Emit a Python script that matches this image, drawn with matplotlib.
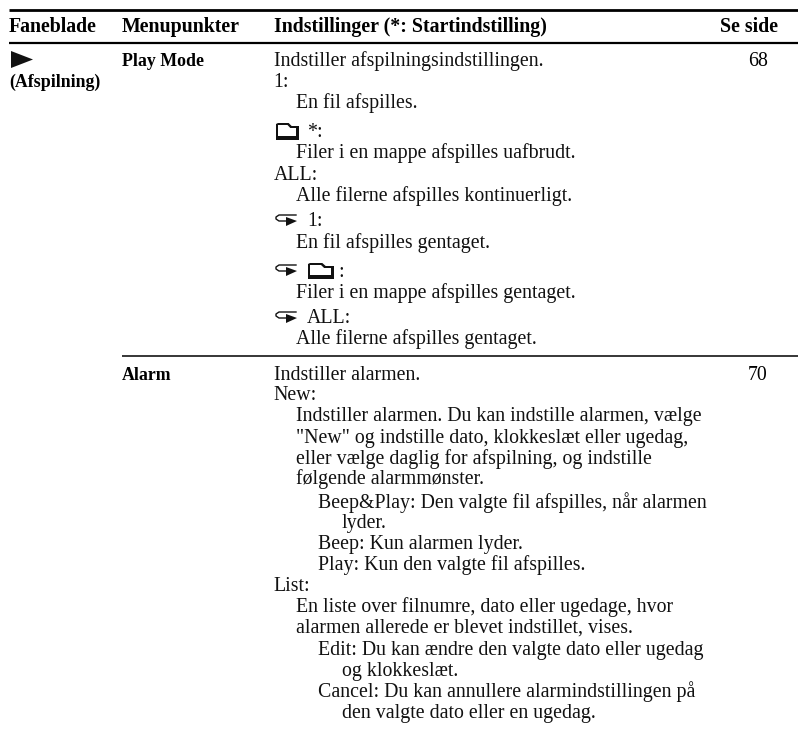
#!/usr/bin/env python3
# -*- coding: utf-8 -*-

import matplotlib
matplotlib.use("Agg")
import matplotlib.pyplot as plt
from matplotlib.patches import Polygon

plt.rcParams['font.family'] = ['Liberation Serif', 'DejaVu Serif']

# ---- table content ----
headers = ["Faneblade", "Menupunkter", "Indstillinger (*: Startindstilling)", "Se side"]
header_x = [9, 122, 273.5, 719.5]

tab_label = "(Afspilning)"
menu_items = ["Play Mode", "Alarm"]
pages = ["68", "70"]

# (text, indent level, baseline y, icon)
play_rows = [
    ("Indstiller afspilningsindstillingen.", 0, 66, None),
    ("1:", 0, 87, None),
    ("En fil afspilles.", 1, 108, None),
    ("*:", 0, 137, "folder"),
    ("Filer i en mappe afspilles uafbrudt.", 1, 158, None),
    ("ALL:", 0, 180, None),
    ("Alle filerne afspilles kontinuerligt.", 1, 201, None),
    ("1:", 0, 226, "loop"),
    ("En fil afspilles gentaget.", 1, 248, None),
    (":", 0, 277, "loopfolder"),
    ("Filer i en mappe afspilles gentaget.", 1, 298, None),
    ("ALL:", 0, 323, "loop"),
    ("Alle filerne afspilles gentaget.", 1, 344, None),
]

alarm_rows = [
    ("Indstiller alarmen.", 0, 380, None),
    ("New:", 0, 400, None),
    ("Indstiller alarmen. Du kan indstille alarmen, vælge", 1, 421, None),
    ("\"New\" og indstille dato, klokkeslæt eller ugedag,", 1, 443, None),
    ("eller vælge daglig for afspilning, og indstille", 1, 464, None),
    ("følgende alarmmønster.", 1, 484, None),
    ("Beep&Play: Den valgte fil afspilles, når alarmen", 2, 508, None),
    ("lyder.", 3, 528, None),
    ("Beep: Kun alarmen lyder.", 2, 549, None),
    ("Play: Kun den valgte fil afspilles.", 2, 570, None),
    ("List:", 0, 591, None),
    ("En liste over filnumre, dato eller ugedage, hvor", 1, 612, None),
    ("alarmen allerede er blevet indstillet, vises.", 1, 633, None),
    ("Edit: Du kan ændre den valgte dato eller ugedag", 2, 655, None),
    ("og klokkeslæt.", 3, 676, None),
    ("Cancel: Du kan annullere alarmindstillingen på", 2, 697, None),
    ("den valgte dato eller en ugedag.", 3, 718, None),
]

indent_x = [273.5, 296, 318, 342]
FS = 14.3
FS_LABEL = 12.9
INK = "#111111"


def draw_folder(ax, x, y, w=25, h=16):
    # x, y = lower left corner of the folder glyph
    ax.add_patch(Polygon([[x, y], [x, y - h + 1], [x + 2, y - h], [x + w * 0.55, y - h], [x + w * 0.68, y - h + 3],
                          [x + w, y - h + 3], [x + w, y]], closed=True, fc=INK, ec="none"))
    ax.add_patch(Polygon([[x + 2, y - 4], [x + 2, y - h + 2], [x + w * 0.5, y - h + 2], [x + w * 0.62, y - h + 5],
                          [x + w - 3, y - h + 5], [x + w - 3, y - 4]], closed=True, fc="white", ec="none"))


def draw_loop(ax, x, y):
    # y = text baseline, glyph about 21 px wide
    ax.plot([x + 20, x + 3, x, x, x + 3, x + 10],
            [y - 11, y - 11, y - 9, y - 7, y - 5, y - 5], color=INK, lw=1.0)
    ax.add_patch(Polygon([[x + 10, y - 9], [x + 21, y - 5], [x + 10, y]], closed=True,
                         fc=INK, ec="none"))


fig = plt.figure(figsize=(7.98, 7.29), dpi=100)
ax = fig.add_axes([0, 0, 1, 1])
ax.set_xlim(0, 798)
ax.set_ylim(729, 0)
ax.axis("off")

# rules
ax.plot([9, 798], [9.5, 9.5], color="black", lw=2.0, solid_capstyle="butt")
ax.plot([9, 798], [42.5, 42.5], color="black", lw=1.6, solid_capstyle="butt")
ax.plot([122, 798], [355.5, 355.5], color="black", lw=1.1, solid_capstyle="butt")

for h, x in zip(headers, header_x):
    ax.text(x, 32, h, fontsize=FS, fontweight="bold", va="baseline", ha="left", color="black")

# tab icon
ax.add_patch(Polygon([[11, 51], [33, 59.5], [11, 68]], closed=True, fc=INK, ec="none"))
ax.text(9, 87, tab_label, fontsize=FS_LABEL, fontweight="bold", va="baseline", ha="left")

ax.text(122, 66, menu_items[0], fontsize=FS_LABEL, fontweight="bold", va="baseline")
ax.text(122, 380, menu_items[1], fontsize=FS_LABEL, fontweight="bold", va="baseline")
ax.text(758, 66, pages[0], fontsize=FS, va="baseline", ha="center")
ax.text(758, 380, pages[1], fontsize=FS, va="baseline", ha="center")

for text, level, y, icon in play_rows + alarm_rows:
    x = indent_x[level]
    if icon == "folder":
        draw_folder(ax, 276, y + 3, w=23, h=17)
        x = 307
    elif icon == "loop":
        draw_loop(ax, 276, y)
        x = 307
    elif icon == "loopfolder":
        draw_loop(ax, 276, y - 1)
        draw_folder(ax, 308, y + 2, w=26, h=16)
        x = 338
    ax.text(x, y, text, fontsize=FS, va="baseline", ha="left", color=INK)

fig.savefig("out.png", dpi=100)
plt.close(fig)
